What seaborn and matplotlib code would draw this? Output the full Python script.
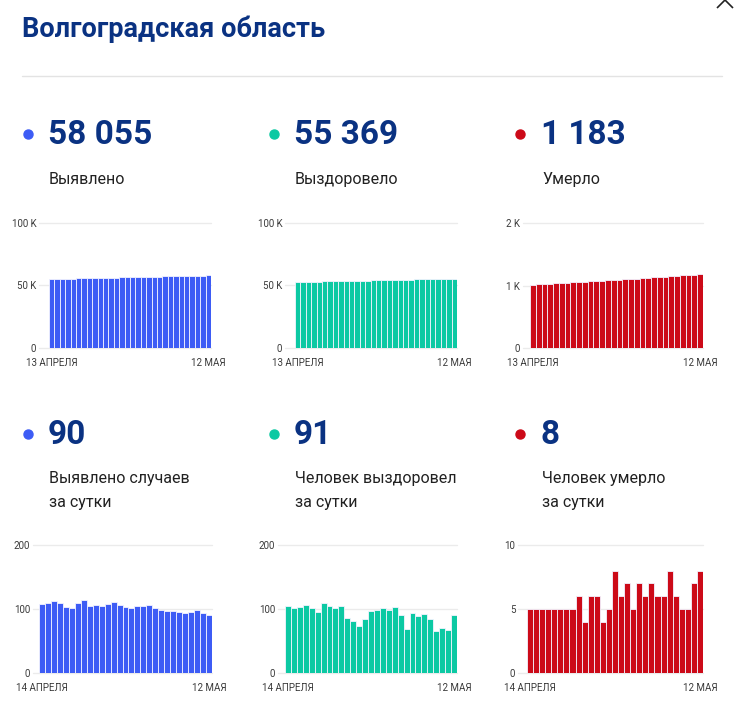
import numpy as np
import pandas as pd
import seaborn as sns
import matplotlib.pyplot as plt

sns.set_theme(style="white")
plt.rcParams['font.family'] = ['Roboto', 'DejaVu Sans']

W, H = 739, 701

# cumulative totals, 13 April - 12 May
cum_dates = ['13 АПРЕЛЯ'] + [''] * 28 + ['12 МАЯ']
cases_total = [55067, 55175, 55285, 55397, 55506, 55609, 55711, 55821, 55935, 56040,
               56147, 56251, 56359, 56470, 56577, 56680, 56781, 56885, 56990, 57097,
               57198, 57296, 57393, 57490, 57585, 57678, 57774, 57872, 57965, 58055]
recovered_total = [52699, 52804, 52906, 53009, 53115, 53216, 53311, 53420, 53524, 53625,
                   53730, 53816, 53898, 53972, 54057, 54154, 54253, 54354, 54453, 54556,
                   54647, 54715, 54808, 54897, 54989, 55074, 55140, 55211, 55278, 55369]
deaths_total = [1015, 1020, 1025, 1030, 1035, 1040, 1045, 1050, 1055, 1061,
                1065, 1071, 1077, 1081, 1086, 1094, 1100, 1107, 1112, 1119,
                1125, 1132, 1138, 1144, 1152, 1158, 1163, 1168, 1175, 1183]

# daily values, 14 April - 12 May
day_dates = ['14 АПРЕЛЯ'] + [''] * 27 + ['12 МАЯ']
cases_daily = [108, 110, 112, 109, 103, 102, 110, 114, 105, 107, 104, 108, 111, 107, 103,
               101, 104, 105, 107, 101, 98, 97, 97, 95, 93, 96, 98, 93, 90]
recovered_daily = [105, 102, 103, 106, 101, 95, 109, 104, 101, 105, 86, 82, 74, 85, 97,
                   99, 101, 99, 103, 91, 68, 93, 89, 92, 85, 66, 71, 67, 91]
deaths_daily = [5, 5, 5, 5, 5, 5, 5, 5, 6, 4, 6, 6, 4, 5, 8,
                6, 7, 5, 7, 6, 7, 6, 6, 8, 6, 5, 5, 7, 8]

big_numbers = ['58 055', '55 369', '1 183', '90', '91', '8']
labels = ['Выявлено', 'Выздоровело', 'Умерло',
          'Выявлено случаев\nза сутки', 'Человек выздоровел\nза сутки', 'Человек умерло\nза сутки']
colors = ['#3d5cf5', '#0cc9a3', '#cc0a18']
navy = '#0a3282'

fig = plt.figure(figsize=(W / 100, H / 100), dpi=100)

bg = fig.add_axes([0, 0, 1, 1])
bg.set_xlim(0, W)
bg.set_ylim(H, 0)
bg.axis('off')

bg.text(22, 37, 'Волгоградская область', fontsize=19.5, fontweight='bold', color=navy,
        va='baseline', ha='left')
bg.plot([22, 722], [76, 76], color='#e3e3e3', lw=1)
bg.plot([717, 725, 733], [8, 0, 8], color='#222222', lw=1.2, solid_capstyle='butt')

dot_x = [28, 274, 520]
text_x = [48, 294, 541]
for i in range(6):
    col = i % 3
    row = i // 3
    base = 144 if row == 0 else 444
    bg.plot(dot_x[col], base - 10, 'o', color=colors[col], markersize=6.5)
    bg.text(text_x[col], base, big_numbers[i], fontsize=24, fontweight='bold', color=navy,
            va='baseline', ha='left')
    lines = labels[i].split('\n')
    lab_base = 184 if row == 0 else 483
    for k, line in enumerate(lines):
        bg.text(text_x[col] + 1, lab_base + 24 * k, line, fontsize=11.5, color='#212121',
                va='baseline', ha='left')

# chart panels: (series, dates, grid_left, bar_left, bar_right, top, bottom, ymax, ticklabels)
panels = [
    (cases_total, cum_dates, 39, 49, 211, 223, 348, 100000, ['0', '50 K', '100 K']),
    (recovered_total, cum_dates, 285, 295, 457, 223, 348, 100000, ['0', '50 K', '100 K']),
    (deaths_total, cum_dates, 523, 530, 703, 223, 348, 2000, ['0', '1 K', '2 K']),
    (cases_daily, day_dates, 33, 39, 212, 545, 673, 200, ['0', '100', '200']),
    (recovered_daily, day_dates, 278, 285, 457, 545, 673, 200, ['0', '100', '200']),
    (deaths_daily, day_dates, 518, 527, 703, 545, 673, 10, ['0', '5', '10']),
]

for i, (vals, dates, gl, bl, br, top, bot, ymax, ytl) in enumerate(panels):
    n = len(vals)
    ax = fig.add_axes([gl / W, 1 - bot / H, (br - gl) / W, (bot - top) / H])
    df = pd.DataFrame({'day': range(n), 'value': vals})
    sns.barplot(data=df, x='day', y='value', ax=ax, color=colors[i % 3], width=1,
                edgecolor='#f3f3ff', linewidth=0.6, saturation=1)
    bar_px = (br - bl) / n
    ax.set_xlim(-0.5 - (bl - gl) / bar_px, n - 0.5)
    ax.set_ylim(0, ymax)
    ax.set_yticks([0, ymax / 2, ymax])
    ax.set_yticklabels(ytl)
    ax.set_xticks([0, n - 1])
    ax.set_xticklabels([dates[0], dates[-1]])
    ax.set_xlabel('')
    ax.set_ylabel('')
    ax.grid(axis='y', color='#ebebeb', lw=1)
    ax.set_axisbelow(True)
    for gline in ax.get_ygridlines():
        gline.set_clip_on(False)
    for s in ax.spines.values():
        s.set_visible(False)
    ax.tick_params(axis='both', length=0, labelsize=7, labelcolor='#3a3a3a')
    ax.tick_params(axis='y', pad=2)
    ax.tick_params(axis='x', pad=7)
    ax.patch.set_alpha(0)

fig.savefig('out.png', dpi=100)
